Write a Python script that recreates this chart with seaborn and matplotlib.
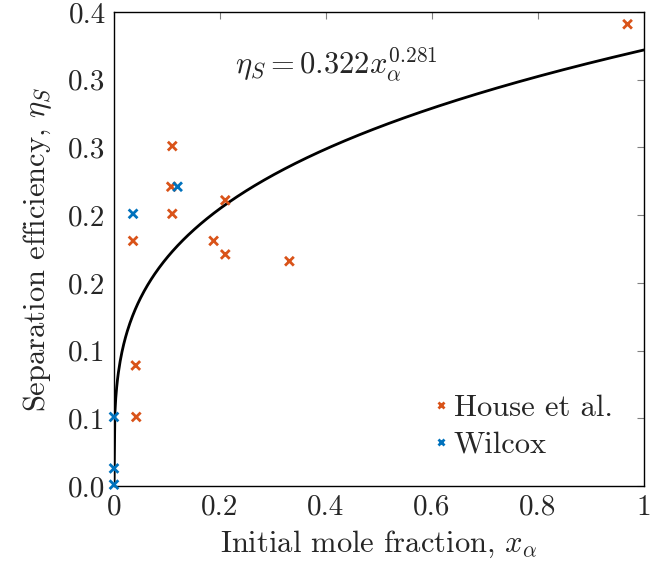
import numpy as np
import pandas as pd
import matplotlib
matplotlib.use('Agg')
import matplotlib.pyplot as plt
import seaborn as sns
from matplotlib.lines import Line2D

sns.set_theme(style='white')
plt.rcParams['font.family'] = ['cmr10', 'DejaVu Serif']
plt.rcParams['mathtext.fontset'] = 'cm'
plt.rcParams['axes.formatter.use_mathtext'] = True

# data
house_x = [0.969, 0.110, 0.108, 0.210, 0.110, 0.036, 0.188, 0.210, 0.331, 0.041, 0.042]
house_y = [0.341, 0.251, 0.221, 0.211, 0.201, 0.181, 0.181, 0.171, 0.166, 0.089, 0.051]
wilcox_x = [0.036, 0.120, 0.0, 0.0, 0.0]
wilcox_y = [0.201, 0.221, 0.051, 0.013, 0.001]

FIT_A, FIT_B = 0.322, 0.281

x_ticks = [0, 0.2, 0.4, 0.6, 0.8, 1]
x_labels = ['0', '0.2', '0.4', '0.6', '0.8', '1']
y_ticks = [0, 0.05, 0.1, 0.15, 0.2, 0.25, 0.3, 0.35]
y_labels = ['0.0', '0.1', '0.1', '0.2', '0.2', '0.3', '0.3', '0.4']

colors = {'House et al.': '#D95319', 'Wilcox': '#0072BD'}

df = pd.concat([
    pd.DataFrame({'x': house_x, 'y': house_y, 'src': 'House et al.'}),
    pd.DataFrame({'x': wilcox_x, 'y': wilcox_y, 'src': 'Wilcox'}),
])
xf = np.linspace(0, 1, 600)
fit = pd.DataFrame({'x': xf, 'y': FIT_A * xf ** FIT_B})

fig = plt.figure(figsize=(6.51, 5.73), dpi=100)
ax = fig.add_axes([0.1751, 0.1518, 0.8141, 0.8272])

sns.lineplot(data=fit, x='x', y='y', color='black', lw=2, ax=ax, zorder=2)
sns.scatterplot(data=df, x='x', y='y', hue='src', marker='x', s=40, linewidth=2,
                palette=colors, ax=ax, zorder=3, clip_on=False, legend=False)

ax.set_xlim(0, 1)
ax.set_ylim(0, 0.35)
ax.set_xticks(x_ticks)
ax.set_xticklabels(x_labels)
ax.set_yticks(y_ticks)
ax.set_yticklabels(y_labels)
ax.tick_params(direction='in', length=5, width=0.8, color='#808080', labelsize=21,
               top=True, right=True, pad=6)
for s in ax.spines.values():
    s.set_color('black')
    s.set_linewidth(1)

ax.set_xlabel(r'Initial mole fraction, $x_\alpha$', fontsize=22, labelpad=6)
ax.set_ylabel(r'Separation efficiency, $\eta_S$', fontsize=22, labelpad=10)

ax.text(0.42, 0.311, r'$\eta_S = 0.322x_\alpha^{0.281}$', fontsize=22,
        ha='center', va='center')

handles = [Line2D([], [], ls='none', marker='x', ms=4, mew=2, color=c, label=k)
           for k, c in colors.items()]
ax.legend(handles=handles, loc='lower right', bbox_to_anchor=(0.975, 0.02), frameon=False,
          fontsize=22, handletextpad=0.1, handlelength=0.6, labelspacing=0.3,
          borderaxespad=0.2)

fig.savefig('out.png', dpi=100)
